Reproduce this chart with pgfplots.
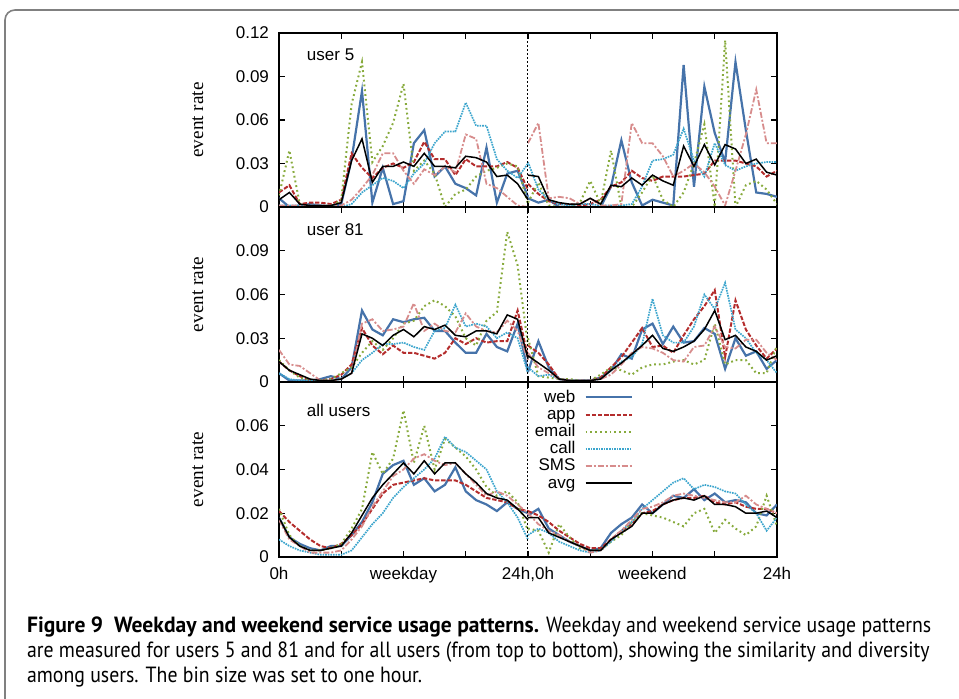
\documentclass[border=0pt]{standalone}
\usepackage{fontspec}
\setmainfont{Liberation Sans}
\newfontfamily\serifrm{Liberation Serif}
\newfontfamily\capfont[FakeStretch=0.9, BoldFeatures={FakeStretch=0.98}]{PT Sans}
\usepackage{pgfplots}
\usepackage{pgfplotstable}
\pgfplotsset{compat=1.18}

\definecolor{cweb}{RGB}{70,115,170}
\definecolor{capp}{RGB}{180,45,45}
\definecolor{cemail}{RGB}{135,170,60}
\definecolor{ccall}{RGB}{60,165,205}
\definecolor{csms}{RGB}{215,140,140}

% user 5
\pgfplotstableread{
x web app email call sms avg
0 0.006 0.010 0.008 0.001 0.001 0.005
1 0.000 0.015 0.039 0.001 0.001 0.010
2 0.001 0.002 0.002 0.001 0.001 0.002
3 0.002 0.003 0.000 0.001 0.001 0.001
4 0.001 0.003 0.000 0.001 0.001 0.001
5 0.000 0.002 0.000 0.001 0.001 0.001
6 0.002 0.005 0.005 0.000 0.001 0.003
7 0.033 0.037 0.071 0.002 0.005 0.032
8 0.080 0.027 0.100 0.010 0.013 0.047
9 0.003 0.020 0.031 0.015 0.022 0.017
10 0.027 0.027 0.042 0.020 0.037 0.028
11 0.002 0.030 0.058 0.018 0.037 0.028
12 0.004 0.027 0.085 0.013 0.025 0.031
13 0.044 0.031 0.025 0.023 0.016 0.028
14 0.053 0.045 0.032 0.030 0.026 0.037
15 0.021 0.033 0.023 0.044 0.022 0.028
16 0.028 0.033 0.000 0.052 0.028 0.028
17 0.016 0.022 0.009 0.052 0.024 0.027
18 0.013 0.033 0.012 0.072 0.050 0.035
19 0.008 0.028 0.021 0.056 0.047 0.034
20 0.041 0.028 0.025 0.056 0.016 0.031
21 0.003 0.028 0.027 0.033 0.013 0.021
22 0.023 0.031 0.030 0.025 0.007 0.022
23 0.025 0.027 0.028 0.020 0.001 0.016
24 0.007 0.012 0.002 0.030 0.000 0.005
nan nan nan nan nan nan nan
24 0.006 0.016 0.003 0.031 0.044 0.022
25 0.003 0.009 0.017 0.012 0.058 0.021
26 0.005 0.004 0.001 0.005 0.006 0.005
27 0.000 0.002 0.000 0.002 0.007 0.003
28 0.000 0.002 0.000 0.001 0.006 0.002
29 0.000 0.001 0.003 0.002 0.002 0.002
30 0.000 0.002 0.018 0.002 0.006 0.006
31 0.000 0.005 0.002 0.001 0.001 0.002
32 0.014 0.014 0.039 0.001 0.001 0.015
33 0.046 0.017 0.000 0.001 0.002 0.014
34 0.017 0.025 0.000 0.002 0.058 0.020
35 0.001 0.020 0.010 0.014 0.044 0.015
36 0.005 0.018 0.022 0.032 0.044 0.022
37 0.003 0.021 0.005 0.033 0.035 0.018
38 0.001 0.021 0.000 0.036 0.021 0.015
39 0.098 0.021 0.010 0.054 0.025 0.042
40 0.014 0.022 0.030 0.032 0.030 0.028
41 0.083 0.023 0.057 0.021 0.024 0.043
42 0.051 0.032 0.000 0.044 0.014 0.029
43 0.031 0.032 0.115 0.029 0.001 0.043
44 0.100 0.032 0.000 0.025 0.025 0.040
45 0.053 0.030 0.015 0.028 0.050 0.030
46 0.010 0.028 0.018 0.030 0.081 0.033
47 0.009 0.021 0.012 0.031 0.044 0.024
48 0.007 0.025 0.002 0.031 0.044 0.022
}\tabA

% user 81
\pgfplotstableread{
x web app email call sms avg
0 0.006 0.014 0.015 0.006 0.022 0.014
1 0.001 0.008 0.008 0.002 0.012 0.008
2 0.001 0.004 0.003 0.001 0.011 0.005
3 0.001 0.001 0.001 0.001 0.006 0.002
4 0.002 0.001 0.001 0.001 0.001 0.001
5 0.004 0.002 0.002 0.001 0.001 0.001
6 0.002 0.005 0.006 0.002 0.002 0.002
7 0.010 0.012 0.010 0.006 0.006 0.006
8 0.049 0.037 0.020 0.015 0.040 0.033
9 0.036 0.025 0.028 0.020 0.043 0.030
10 0.032 0.019 0.022 0.026 0.035 0.025
11 0.043 0.025 0.030 0.026 0.036 0.032
12 0.041 0.020 0.040 0.027 0.038 0.036
13 0.043 0.020 0.042 0.024 0.054 0.031
14 0.044 0.018 0.052 0.022 0.035 0.038
15 0.035 0.016 0.056 0.035 0.040 0.036
16 0.035 0.020 0.052 0.037 0.035 0.039
17 0.027 0.030 0.045 0.053 0.034 0.032
18 0.020 0.026 0.030 0.038 0.047 0.031
19 0.020 0.030 0.025 0.040 0.038 0.035
20 0.033 0.027 0.042 0.038 0.035 0.035
21 0.024 0.028 0.048 0.030 0.034 0.033
22 0.021 0.028 0.103 0.034 0.042 0.046
23 0.040 0.049 0.080 0.030 0.035 0.043
24 0.007 0.017 0.025 0.006 0.015 0.016
nan nan nan nan nan nan nan
24 0.007 0.025 0.030 0.010 0.020 0.018
25 0.028 0.020 0.004 0.004 0.010 0.013
26 0.010 0.012 0.003 0.005 0.006 0.008
27 0.002 0.002 0.002 0.002 0.002 0.002
28 0.001 0.001 0.002 0.001 0.001 0.001
29 0.001 0.001 0.001 0.001 0.001 0.001
30 0.001 0.001 0.001 0.001 0.001 0.001
31 0.003 0.003 0.005 0.002 0.002 0.002
32 0.008 0.010 0.010 0.008 0.005 0.008
33 0.019 0.017 0.008 0.014 0.012 0.013
34 0.016 0.027 0.005 0.017 0.020 0.019
35 0.036 0.037 0.010 0.026 0.024 0.025
36 0.040 0.024 0.012 0.057 0.023 0.032
37 0.026 0.025 0.012 0.032 0.020 0.023
38 0.038 0.020 0.014 0.027 0.015 0.021
39 0.027 0.032 0.015 0.027 0.014 0.024
40 0.028 0.043 0.012 0.038 0.024 0.028
41 0.037 0.052 0.015 0.060 0.025 0.036
42 0.033 0.063 0.040 0.050 0.038 0.049
43 0.009 0.017 0.012 0.068 0.024 0.029
44 0.030 0.056 0.015 0.036 0.023 0.032
45 0.018 0.036 0.015 0.030 0.029 0.024
46 0.021 0.025 0.006 0.020 0.029 0.021
47 0.009 0.016 0.006 0.015 0.020 0.015
48 0.015 0.023 0.025 0.006 0.015 0.018
}\tabB

% all users
\pgfplotstableread{
x web app email call sms avg
0 0.018 0.021 0.022 0.008 0.017 0.018
1 0.009 0.016 0.010 0.005 0.008 0.009
2 0.006 0.012 0.005 0.003 0.005 0.005
3 0.004 0.008 0.003 0.002 0.002 0.003
4 0.003 0.005 0.003 0.001 0.002 0.003
5 0.005 0.004 0.004 0.001 0.002 0.004
6 0.005 0.006 0.006 0.001 0.003 0.005
7 0.010 0.010 0.013 0.003 0.008 0.011
8 0.016 0.015 0.022 0.009 0.014 0.019
9 0.025 0.022 0.048 0.015 0.023 0.027
10 0.038 0.029 0.038 0.020 0.030 0.033
11 0.042 0.033 0.045 0.027 0.037 0.038
12 0.044 0.034 0.067 0.032 0.040 0.043
13 0.033 0.035 0.043 0.036 0.045 0.038
14 0.036 0.036 0.060 0.040 0.047 0.044
15 0.030 0.035 0.040 0.045 0.044 0.038
16 0.033 0.035 0.054 0.055 0.042 0.043
17 0.041 0.035 0.050 0.050 0.043 0.043
18 0.030 0.033 0.046 0.048 0.038 0.038
19 0.026 0.030 0.040 0.044 0.033 0.034
20 0.024 0.027 0.032 0.040 0.028 0.029
21 0.021 0.026 0.028 0.030 0.030 0.027
22 0.025 0.025 0.030 0.025 0.028 0.026
23 0.022 0.022 0.025 0.018 0.024 0.022
24 0.020 0.021 0.012 0.008 0.020 0.017
nan nan nan nan nan nan nan
24 0.019 0.021 0.013 0.010 0.020 0.018
25 0.022 0.019 0.012 0.013 0.015 0.018
26 0.013 0.016 0.002 0.011 0.012 0.011
27 0.010 0.012 0.015 0.007 0.010 0.009
28 0.007 0.009 0.009 0.005 0.007 0.007
29 0.005 0.006 0.004 0.003 0.005 0.005
30 0.003 0.004 0.003 0.002 0.002 0.003
31 0.004 0.004 0.003 0.003 0.003 0.003
32 0.011 0.008 0.007 0.007 0.008 0.008
33 0.015 0.012 0.010 0.012 0.012 0.011
34 0.018 0.015 0.016 0.016 0.017 0.014
35 0.024 0.020 0.020 0.022 0.022 0.020
36 0.020 0.021 0.019 0.026 0.023 0.020
37 0.024 0.024 0.018 0.030 0.025 0.024
38 0.028 0.026 0.016 0.034 0.028 0.026
39 0.027 0.027 0.014 0.036 0.029 0.027
40 0.031 0.027 0.020 0.031 0.028 0.026
41 0.026 0.028 0.022 0.033 0.027 0.028
42 0.029 0.025 0.011 0.032 0.026 0.024
43 0.025 0.024 0.017 0.030 0.025 0.024
44 0.026 0.025 0.013 0.029 0.025 0.023
45 0.025 0.023 0.010 0.024 0.028 0.020
46 0.020 0.022 0.014 0.020 0.024 0.020
47 0.019 0.022 0.028 0.012 0.022 0.021
48 0.024 0.020 0.014 0.018 0.020 0.018
}\tabC

\pgfplotsset{
  panel/.style={
    scale only axis, width=249pt,
    xmin=0, xmax=48, ymin=0,
    xtick={0,6,...,48}, xticklabels={},
    major tick length=3pt,
    tick style={black, line width=0.6pt},
    axis line style={line width=0.7pt},
    unbounded coords=jump,
    scaled y ticks=false,
    ylabel={event rate},
    ylabel style={font=\serifrm\fontsize{9.6}{11}\selectfont,
      at={(axis description cs:-0.163,0.5)}, anchor=center},
    ticklabel style={font=\fontsize{8.5}{10}\selectfont},
    yticklabel style={xshift=-1.5pt},
  },
  web/.style={cweb, line width=1.1pt},
  app/.style={capp, line width=1pt, dash pattern=on 2.2pt off 0.9pt},
  email/.style={cemail, line width=1pt, dash pattern=on 0.9pt off 1.5pt},
  call/.style={ccall, line width=0.85pt, dash pattern=on 0.8pt off 0.5pt},
  sms/.style={csms, line width=0.9pt, dash pattern=on 3pt off 1pt on 1pt off 1pt},
  avg/.style={black, line width=0.75pt},
}

\newcommand\series[1]{%
  \addplot[web] table[x=x,y=web]{#1};
  \addplot[app] table[x=x,y=app]{#1};
  \addplot[email] table[x=x,y=email]{#1};
  \addplot[call] table[x=x,y=call]{#1};
  \addplot[sms] table[x=x,y=sms]{#1};
  \addplot[avg] table[x=x,y=avg]{#1};
}

\begin{document}
\begin{tikzpicture}
\path[use as bounding box] (0,0) rectangle (479.5pt,349.5pt);
\draw[black!50, line width=0.8pt, rounded corners=5pt] (2.5pt,344.5pt) rectangle (520pt,-20pt);

\begin{axis}[panel, at={(139.5pt,246pt)}, anchor=south west, height=87pt,
  ymax=0.12, ytick={0,0.03,0.06,0.09,0.12}, yticklabels={0,0.03,0.06,0.09,0.12}]
  \series{\tabA}
  \draw[black, line width=0.5pt, dash pattern=on 1pt off 1pt] (axis cs:24,0) -- (axis cs:24,0.12);
  \node[anchor=west, font=\fontsize{8.5}{10}\selectfont] at (rel axis cs:0.042,0.874) {user 5};
\end{axis}

\begin{axis}[panel, at={(139.5pt,158.5pt)}, anchor=south west, height=87.5pt,
  ymax=0.12, ytick={0,0.03,0.06,0.09}, yticklabels={0,0.03,0.06,0.09}]
  \series{\tabB}
  \draw[black, line width=0.5pt, dash pattern=on 1pt off 1pt] (axis cs:24,0) -- (axis cs:24,0.12);
  \node[anchor=west, font=\fontsize{8.5}{10}\selectfont] at (rel axis cs:0.042,0.869) {user 81};
\end{axis}

\begin{axis}[panel, at={(139.5pt,71pt)}, anchor=south west, height=87.5pt,
  ymax=0.08, ytick={0,0.02,0.04,0.06}, yticklabels={0,0.02,0.04,0.06},
  xticklabels={0h,,weekday,,{24h,0h},,weekend,,24h},
  xticklabel style={yshift=-1.5pt},
  legend style={at={(rel axis cs:0.711,0.96)}, anchor=north east,
    draw=none, fill=none, inner sep=0pt, font=\fontsize{8.5}{10}\selectfont,
    nodes={inner sep=0.6pt, text height=5.8pt, text depth=1.6pt}},
  legend cell align=right, legend plot pos=right,
  legend image code/.code={\path (0pt,0pt); \draw[#1, line width=1pt] (4pt,0.25pt) -- (27pt,0.25pt);}]
  \series{\tabC}
  \legend{web,app,email,call,SMS,avg}
  \draw[black, line width=0.5pt, dash pattern=on 1pt off 1pt] (axis cs:24,0) -- (axis cs:24,0.08);
  \node[anchor=west, font=\fontsize{8.5}{10}\selectfont] at (rel axis cs:0.042,0.84) {all users};
\end{axis}

\node[anchor=base west, align=left, font=\capfont\fontsize{11}{12.5}\selectfont] at (10pt,8pt)
 {\textbf{Figure 9\enspace Weekday and weekend service usage patterns.} Weekday and weekend service usage patterns\\
  are measured for users 5 and 81 and for all users (from top to bottom), showing the similarity and diversity\\
  among users. The bin size was set to one hour.};
\end{tikzpicture}
\end{document}
